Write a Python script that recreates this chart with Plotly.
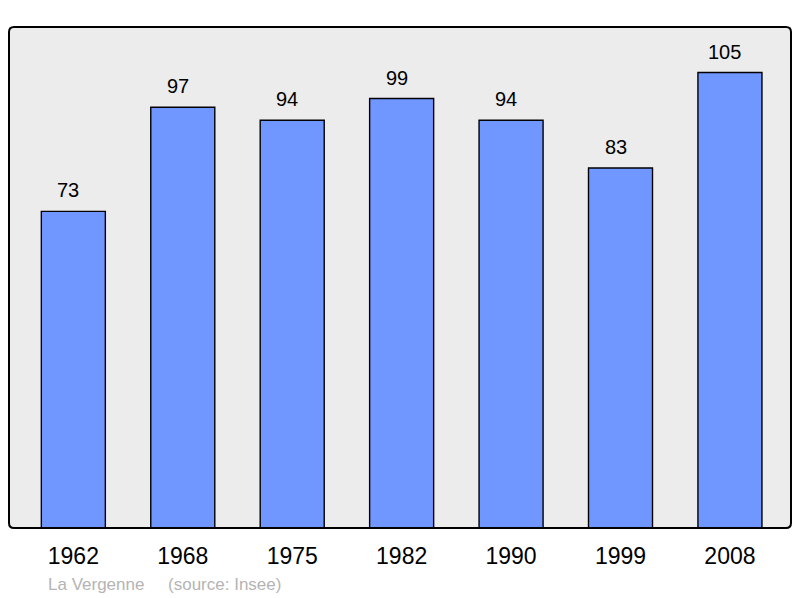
import plotly.graph_objects as go

years = ["1962", "1968", "1975", "1982", "1990", "1999", "2008"]
population = [73, 97, 94, 99, 94, 83, 105]
footer = "La Vergenne     (source: Insee)"

# page body has an 8px margin; figure sized to fit the 800x598 window
W, H = 792, 590
L, R, T, B = 1, 9, 19, 70
pw, ph = W - L - R, H - T - B

xs = list(range(len(years)))
FONT = "Liberation Sans, Arial, sans-serif"

fig = go.Figure()
fig.add_trace(go.Bar(
    x=xs, y=population, width=0.585,
    marker=dict(color="#7097ff", line=dict(color="#000000", width=1.4)),
    hoverinfo="skip",
))

for x, v in zip(xs, population):
    fig.add_annotation(x=x, y=v, text=str(v), showarrow=False,
                       yanchor="bottom", yshift=8, xshift=-5,
                       font=dict(family=FONT, size=20, color="#000"))

fig.add_annotation(x=(38 - L) / pw, y=-56 / ph, xref="paper", yref="paper",
                   text=footer, showarrow=False, xanchor="left", yanchor="middle",
                   font=dict(family=FONT, size=17, color="#b4b4b4"))

# rounded border
rx, ry = 5 / pw, 5 / ph
path = (f"M {rx},0 L {1-rx},0 Q 1,0 1,{ry} L 1,{1-ry} Q 1,1 {1-rx},1 "
        f"L {rx},1 Q 0,1 0,{1-ry} L 0,{ry} Q 0,0 {rx},0 Z")
fig.add_shape(type="path", path=path, xref="paper", yref="paper",
              line=dict(color="#000", width=2), layer="above")

fig.update_layout(
    width=W, height=H,
    margin=dict(l=L, r=R, t=T, b=B, pad=0),
    paper_bgcolor="#ffffff", plot_bgcolor="#ececec",
    showlegend=False,
    xaxis=dict(range=[-0.588, 6.558], tickvals=xs, ticktext=years, showgrid=False,
               zeroline=False, ticks="", ticklabelstandoff=12,
               tickfont=dict(family=FONT, size=23, color="#000")),
    yaxis=dict(range=[0, 115.5], showgrid=False, zeroline=False, showticklabels=False, ticks=""),
)

fig.write_html("out.html")
